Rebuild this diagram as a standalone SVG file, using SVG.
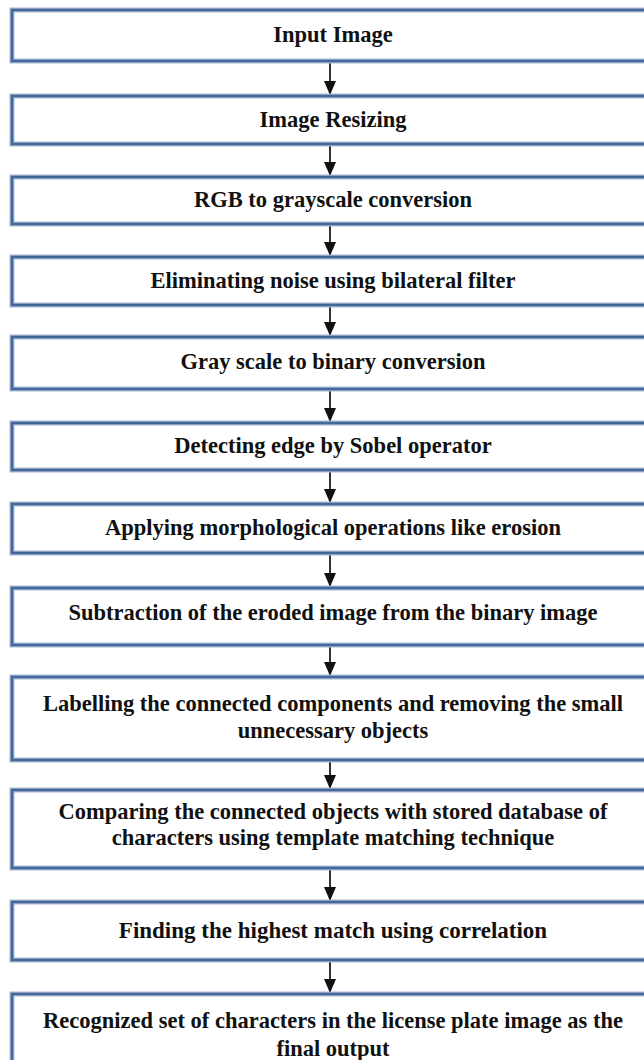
<svg xmlns="http://www.w3.org/2000/svg" width="644" height="1060" viewBox="0 0 644 1060">
<defs>
<marker id="ah" viewBox="0 0 14 12" refX="14" refY="6" markerWidth="14" markerHeight="12" markerUnits="userSpaceOnUse" orient="auto">
<path d="M0,0 L14,6 L0,12 Z" fill="#111"/>
</marker>
<style>
.bo{fill:#fff;stroke:#a3b6d2;stroke-width:5}
.bi{fill:none;stroke:#44679b;stroke-width:2.5}
.t{font-weight:bold;font-size:22.5px;fill:#111;text-anchor:middle}
.c{stroke:#333;stroke-width:2;fill:none}
</style>
</defs>
<rect width="644" height="1060" fill="#fff"/>
<g id="connectors">
<line class="c" x1="330" y1="62" x2="330" y2="95" marker-end="url(#ah)"/>
<line class="c" x1="330" y1="145" x2="330" y2="176" marker-end="url(#ah)"/>
<line class="c" x1="330" y1="225" x2="330" y2="256" marker-end="url(#ah)"/>
<line class="c" x1="330" y1="306" x2="330" y2="336" marker-end="url(#ah)"/>
<line class="c" x1="330" y1="390" x2="330" y2="422" marker-end="url(#ah)"/>
<line class="c" x1="330" y1="471" x2="330" y2="503" marker-end="url(#ah)"/>
<line class="c" x1="330" y1="554" x2="330" y2="587" marker-end="url(#ah)"/>
<line class="c" x1="330" y1="646" x2="330" y2="676" marker-end="url(#ah)"/>
<line class="c" x1="330" y1="761" x2="330" y2="789" marker-end="url(#ah)"/>
<line class="c" x1="330" y1="869" x2="330" y2="901" marker-end="url(#ah)"/>
<line class="c" x1="330" y1="961" x2="330" y2="993" marker-end="url(#ah)"/>
</g>
<g font-family="Liberation Serif, Times New Roman, DejaVu Serif, serif">
<g id="n1"><rect class="bo" x="12" y="10" width="660" height="51"/><rect class="bi" x="12" y="10" width="660" height="51"/><text class="t" x="333" y="42">Input Image</text></g>
<g id="n2"><rect class="bo" x="12" y="96" width="660" height="48"/><rect class="bi" x="12" y="96" width="660" height="48"/><text class="t" x="333" y="127">Image Resizing</text></g>
<g id="n3"><rect class="bo" x="12" y="177" width="660" height="47"/><rect class="bi" x="12" y="177" width="660" height="47"/><text class="t" x="333" y="207">RGB to grayscale conversion</text></g>
<g id="n4"><rect class="bo" x="12" y="257" width="660" height="48"/><rect class="bi" x="12" y="257" width="660" height="48"/><text class="t" x="333" y="288">Eliminating noise using bilateral filter</text></g>
<g id="n5"><rect class="bo" x="12" y="337" width="660" height="52"/><rect class="bi" x="12" y="337" width="660" height="52"/><text class="t" x="333" y="369">Gray scale to binary conversion</text></g>
<g id="n6"><rect class="bo" x="12" y="423" width="660" height="47"/><rect class="bi" x="12" y="423" width="660" height="47"/><text class="t" x="333" y="453">Detecting edge by Sobel operator</text></g>
<g id="n7"><rect class="bo" x="12" y="504" width="660" height="49"/><rect class="bi" x="12" y="504" width="660" height="49"/><text class="t" x="333" y="535">Applying morphological operations like erosion</text></g>
<g id="n8"><rect class="bo" x="12" y="588" width="660" height="57"/><rect class="bi" x="12" y="588" width="660" height="57"/><text class="t" x="333" y="620">Subtraction of the eroded image from the binary image</text></g>
<g id="n9"><rect class="bo" x="12" y="677" width="660" height="83"/><rect class="bi" x="12" y="677" width="660" height="83"/><text class="t" x="333" y="711">Labelling the connected components and removing the small</text><text class="t" x="333" y="738">unnecessary objects</text></g>
<g id="n10"><rect class="bo" x="12" y="790" width="660" height="78"/><rect class="bi" x="12" y="790" width="660" height="78"/><text class="t" x="333" y="819">Comparing the connected objects with stored database of</text><text class="t" x="333" y="845">characters using template matching technique</text></g>
<g id="n11"><rect class="bo" x="12" y="902" width="660" height="58"/><rect class="bi" x="12" y="902" width="660" height="58"/><text class="t" x="333" y="938" style="font-size:23px">Finding the highest match using correlation</text></g>
<g id="n12"><rect class="bo" x="12" y="994" width="660" height="90"/><rect class="bi" x="12" y="994" width="660" height="90"/><text class="t" x="333" y="1028">Recognized set of characters in the license plate image as the</text><text class="t" x="333" y="1056">final output</text></g>
</g>
</svg>
